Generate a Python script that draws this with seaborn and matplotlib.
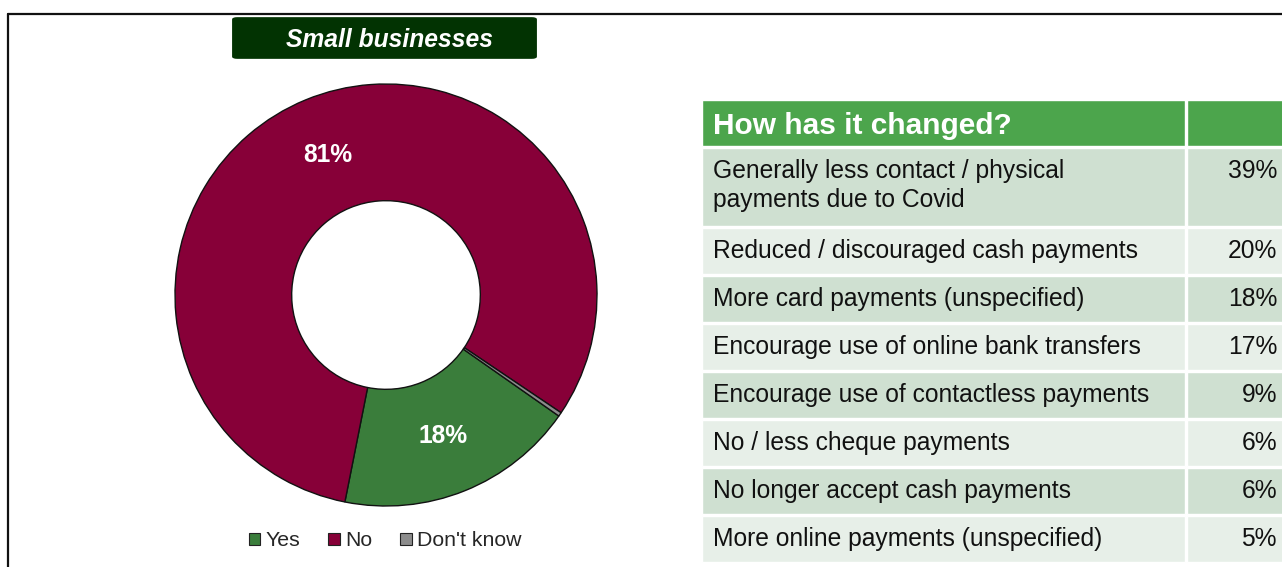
import matplotlib

matplotlib.use("Agg")

import matplotlib.pyplot as plt
import numpy as np
import seaborn as sns
from matplotlib.lines import Line2D
from matplotlib.patches import FancyBboxPatch, Patch

# donut data
answers = ["Yes", "No", "Don't know"]
answer_shares = [18.4, 81.3, 0.3]
answer_colors = ["#3a7d3b", "#870038", "#8c8c8c"]

# table data
table_title = "How has it changed?"
changes = [
    "Generally less contact / physical\npayments due to Covid",
    "Reduced / discouraged cash payments",
    "More card payments (unspecified)",
    "Encourage use of online bank transfers",
    "Encourage use of contactless payments",
    "No / less cheque payments",
    "No longer accept cash payments",
    "More online payments (unspecified)",
]
change_shares = [39, 20, 18, 17, 9, 6, 6, 5]

sns.set_theme(style="white")
plt.rcParams["font.family"] = ["Liberation Sans", "DejaVu Sans"]

W, H = 1282, 567
fig = plt.figure(figsize=(W / 100, H / 100), dpi=100)
fig.patch.set_facecolor("white")

# outer frame (top and left edges visible)
fig.add_artist(Line2D([8 / W, 8 / W], [0, 1 - 14 / H], color="#111111", lw=1.6))
fig.add_artist(Line2D([8 / W, 1], [1 - 14 / H, 1 - 14 / H], color="#111111", lw=1.6))

# title box
box = FancyBboxPatch(
    (234 / W, 1 - 58 / H), 301 / W, 40 / H,
    boxstyle="round,pad=0.0015,rounding_size=0.004",
    transform=fig.transFigure, facecolor="#023302", edgecolor="none",
)
fig.add_artist(box)
fig.text(390 / W, 1 - 40 / H, "Small businesses", color="white", fontsize=17.7,
         fontweight="bold", fontstyle="italic", ha="center", va="center")

# donut chart
r_px = 211
cx, cy = 386, 295
ax = fig.add_axes([(cx - r_px) / W, (H - cy - r_px) / H, 2 * r_px / W, 2 * r_px / H])


def pct_label(p):
    return f"{p:.0f}%" if p >= 1 else ""


wedges, _, autotexts = ax.pie(
    answer_shares,
    colors=answer_colors,
    startangle=-35,
    counterclock=False,
    radius=1,
    autopct=pct_label,
    pctdistance=0.72,
    wedgeprops=dict(width=0.553, edgecolor="#111111", linewidth=1.0),
)
for t in autotexts:
    t.set_color("white")
    t.set_fontsize(17.7)
    t.set_fontweight("bold")
ax.set_xlim(-1, 1)
ax.set_ylim(-1, 1)
ax.set_aspect("equal")
ax.axis("off")

handles = [Patch(facecolor=c, edgecolor="#222222", linewidth=0.8, label=a)
           for a, c in zip(answers, answer_colors)]
fig.legend(
    handles=handles, loc="center", bbox_to_anchor=(385 / W, 1 - 541 / H),
    ncol=3, frameon=False, fontsize=15.3, handlelength=0.55, handleheight=0.55,
    handletextpad=0.25, columnspacing=1.3,
)

# table
row_px = 48
heights = [1.0] + [1 + 0.67 * lab.count("\n") for lab in changes]
total = sum(heights)
tax = fig.add_axes([702 / W, (H - 100 - total * row_px) / H, 600 / W, total * row_px / H])
tax.set_xlim(0, 600)
tax.set_ylim(total, 0)
tax.axis("off")

gap = 2 / row_px
label_w, val_left, val_w = 483, 485, 115
tops = np.concatenate([[0], np.cumsum(heights)[:-1]])

# header
tax.barh(tops[0] + (heights[0] - gap) / 2, label_w, left=0, height=heights[0] - gap,
         color="#4ca54c")
tax.barh(tops[0] + (heights[0] - gap) / 2, val_w, left=val_left, height=heights[0] - gap,
         color="#4ca54c")
tax.text(11, tops[0] + 0.54, table_title, color="white", fontsize=21.5,
         fontweight="bold", va="center", ha="left")

for i, (lab, share) in enumerate(zip(changes, change_shares)):
    top = tops[i + 1]
    h = heights[i + 1]
    col = "#cfe0d1" if i % 2 == 0 else "#e7efe8"
    tax.barh(top + (h - gap) / 2, label_w, left=0, height=h - gap, color=col)
    tax.barh(top + (h - gap) / 2, val_w, left=val_left, height=h - gap, color=col)
    for j, line in enumerate(lab.split("\n")):
        tax.text(11, top + 0.48 + 0.61 * j, line, fontsize=17.7, color="#111111",
                 va="center", ha="left")
    tax.text(575, top + 0.48, f"{share}%", fontsize=17.7, color="#111111",
             va="center", ha="right")

fig.savefig("out.png", dpi=100)
